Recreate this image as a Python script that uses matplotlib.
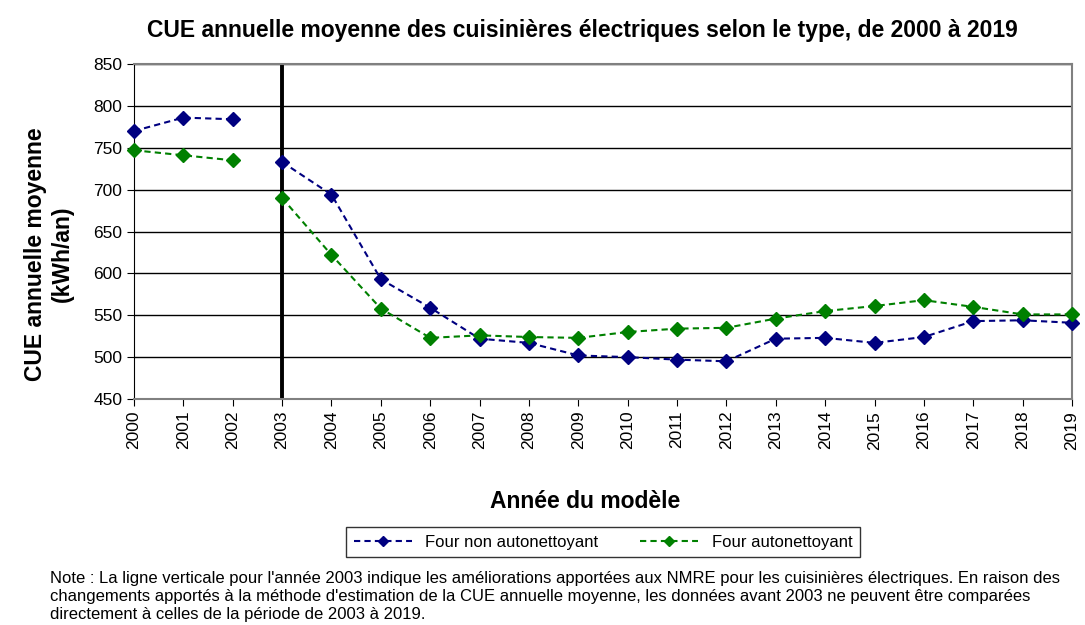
import numpy as np
import matplotlib.pyplot as plt

plt.rcParams['font.family'] = ['Liberation Sans', 'DejaVu Sans']

years = list(range(2000, 2020))
non_auto = [770, 786, 784, 733, 694, 593, 559, 522, 517, 502,
            500, 497, 495, 522, 523, 517, 524, 543, 544, 541]
auto = [747, 741, 735, 690, 622, 558, 523, 526, 524, 523,
        530, 534, 535, 546, 555, 561, 568, 560, 551, 551]
series_labels = ["Four non autonettoyant", "Four autonettoyant"]
colors = ["#000080", "#008000"]
break_year = 2003

title = "CUE annuelle moyenne des cuisinières électriques selon le type, de 2000 à 2019"
note_lines = [
    "Note : La ligne verticale pour l'année 2003 indique les améliorations apportées aux NMRE pour les cuisinières électriques. En raison des",
    "changements apportés à la méthode d'estimation de la CUE annuelle moyenne, les données avant 2003 ne peuvent être comparées",
    "directement à celles de la période de 2003 à 2019.",
]

W, H = 1085, 625
fig = plt.figure(figsize=(W / 100, H / 100), dpi=100)
ax = fig.add_axes([134 / W, 1 - 399 / H, (1072 - 134) / W, (399 - 64) / H])

x = np.array(years)
for vals, lab, col in zip([non_auto, auto], series_labels, colors):
    v = np.array(vals, dtype=float)
    pre = x < break_year
    # the series is broken at 2003
    for m in [pre, ~pre]:
        ax.plot(x[m], v[m], color=col, ls=(0, (3, 2)), lw=1.5,
                marker="D", ms=7.5, mec=col, mfc=col, clip_on=False, zorder=3)
    # legend proxy
    ax.plot([], [], color=col, ls=(0, (3, 2)), lw=1.5,
            marker="D", ms=5, label=lab)

ax.axvline(break_year, color="black", lw=2.8, zorder=2)

ax.set_xlim(2000, 2019)
ax.set_ylim(450, 850)
ax.set_yticks(range(450, 851, 50))
ax.set_xticks(years)
ax.set_xticklabels([str(y) for y in years], rotation=90, fontsize=12.5)
ax.tick_params(axis="y", labelsize=12.5)
ax.tick_params(direction="out", length=5, color="black")
ax.yaxis.grid(True, color="black", lw=1)
ax.set_axisbelow(True)
for s in ["top", "right", "bottom"]:
    ax.spines[s].set_color("#808080")
    ax.spines[s].set_linewidth(1.5)
ax.spines["left"].set_color("black")

fig.text(582 / W, 1 - 30 / H, title, ha="center", va="center",
         fontsize=16.5, fontweight="bold")
fig.text(49 / W, 1 - 254 / H, "CUE annuelle moyenne\n(kWh/an)", rotation=90,
         ha="center", va="center", multialignment="center",
         fontsize=16.5, fontweight="bold", linespacing=1.25)
fig.text(585 / W, 1 - 502 / H, "Année du modèle",
         ha="center", va="center", fontsize=16.5, fontweight="bold")

leg = fig.legend(loc="center", bbox_to_anchor=(603 / W, 1 - 542 / H),
                 ncol=2, fontsize=12, frameon=True, fancybox=False,
                 edgecolor="black", handlelength=3.5, columnspacing=2.5,
                 borderpad=0.45)
leg.get_frame().set_linewidth(1)

for i, line in enumerate(note_lines):
    fig.text(50 / W, 1 - (578 + i * 18.5) / H, line, ha="left",
             va="center", fontsize=12)

fig.savefig("out.png", dpi=100)
